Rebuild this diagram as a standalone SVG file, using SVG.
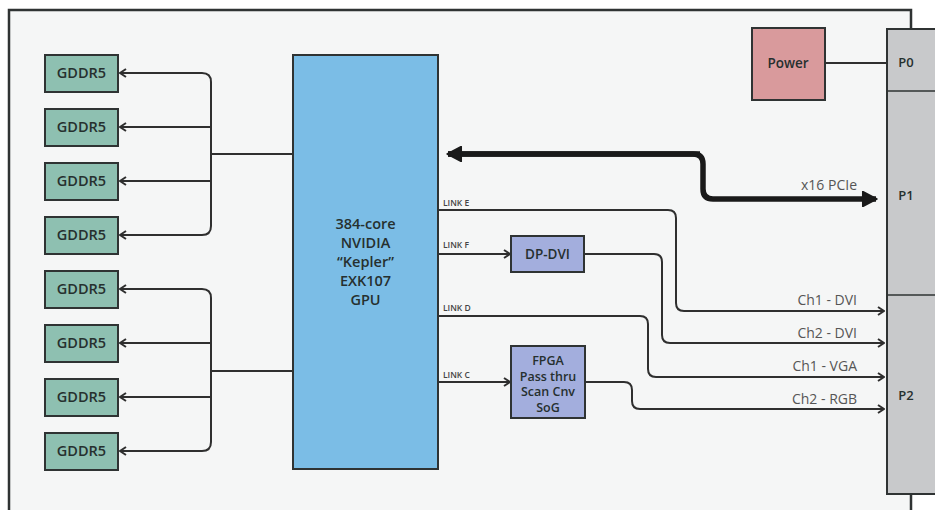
<svg xmlns="http://www.w3.org/2000/svg" width="935" height="510" viewBox="0 0 935 510">
<defs>
<style>
.box{stroke:#2f3333;stroke-width:2}
.mem{fill:#8ec0b1}
.t{font-family:"Open Sans","Liberation Sans",sans-serif;font-weight:600;fill:#26302f;text-anchor:middle}
.lnk{font-family:"Open Sans","Liberation Sans",sans-serif;font-weight:600;font-size:8.5px;fill:#444}
.lbl{font-family:"Open Sans","Liberation Sans",sans-serif;font-size:14px;fill:#555;text-anchor:end}
.w{fill:none;stroke:#2f2f2f;stroke-width:2}
.thick{fill:none;stroke:#1a1a1a;stroke-width:5.5}
</style>
<marker id="open" viewBox="0 0 10 10" refX="9" refY="5" markerWidth="10" markerHeight="10" markerUnits="userSpaceOnUse" orient="auto">
<path d="M3,1 L9,5 L3,9" fill="none" stroke="#2f2f2f" stroke-width="2"/>
</marker>
<marker id="fat" viewBox="0 0 10 10" refX="9" refY="5" markerWidth="3" markerHeight="3" orient="auto">
<path d="M1,0.5 L9.5,5 L1,9.5 Z" fill="#1a1a1a" stroke="#1a1a1a" stroke-width="1" stroke-linejoin="round"/>
</marker>
</defs>
<rect width="935" height="510" fill="#ffffff"/>
<g id="frame">
<rect x="9" y="10" width="902" height="510" fill="#f5f6f6"/>
<path d="M9,515 V10 H911 V29 M911,494 V515" fill="none" stroke="#2f3333" stroke-width="2.5"/>
</g>
<g id="connectors">
<path class="w" d="M211,154 V82 Q211,73 202,73 H120" marker-end="url(#open)"/>
<path class="w" d="M211,154 V226 Q211,235 202,235 H120" marker-end="url(#open)"/>
<path class="w" d="M211,127 H120" marker-end="url(#open)"/>
<path class="w" d="M211,181 H120" marker-end="url(#open)"/>
<path class="w" d="M211,154 H293"/>
<path class="w" d="M211,371 V298 Q211,289 202,289 H120" marker-end="url(#open)"/>
<path class="w" d="M211,371 V442 Q211,451 202,451 H120" marker-end="url(#open)"/>
<path class="w" d="M211,343 H120" marker-end="url(#open)"/>
<path class="w" d="M211,397 H120" marker-end="url(#open)"/>
<path class="w" d="M211,371 H293"/>
<path class="thick" d="M448,154 H693 Q703,154 703,164 V189 Q703,199 713,199 H876" marker-end="url(#fat)"/>
<path class="thick" d="M700,154 H448" marker-end="url(#fat)"/>
<path class="w" d="M438,210 H668 Q676,210 676,218 V303 Q676,311 684,311 H884" marker-end="url(#open)"/>
<path class="w" d="M438,254 H510" marker-end="url(#open)"/>
<path class="w" d="M584,254 H654 Q662,254 662,262 V335 Q662,343 670,343 H884" marker-end="url(#open)"/>
<path class="w" d="M438,316 H640 Q648,316 648,324 V369 Q648,377 656,377 H884" marker-end="url(#open)"/>
<path class="w" d="M438,382 H510" marker-end="url(#open)"/>
<path class="w" d="M585,382 H624 Q632,382 632,390 V401 Q632,409 640,409 H884" marker-end="url(#open)"/>
<path class="w" d="M825,63 H887"/>
</g>
<g id="connector-block">
<rect class="box" x="887" y="29" width="60" height="465" fill="#c8c9cb"/>
<line x1="887" y1="91" x2="935" y2="91" stroke="#2f3333" stroke-width="1.5"/>
<line x1="887" y1="295" x2="935" y2="295" stroke="#2f3333" stroke-width="1.5"/>
<text class="t" x="906" y="67" font-size="13">P0</text>
<text class="t" x="906" y="200" font-size="13">P1</text>
<text class="t" x="906" y="400" font-size="13">P2</text>
</g>
<g id="power">
<rect class="box" x="752" y="28" width="73" height="72" fill="#d99a9c"/>
<text class="t" x="788" y="68" font-size="13.5" fill="#3a2020">Power</text>
</g>
<g id="gpu">
<rect class="box" x="293" y="55" width="145" height="414" fill="#7bbde6"/>
<text class="t" font-size="14.5" x="365.5"><tspan x="365.5" y="229">384-core</tspan><tspan x="365.5" y="248">NVIDIA</tspan><tspan x="365.5" y="267">“Kepler”</tspan><tspan x="365.5" y="286">EXK107</tspan><tspan x="365.5" y="305">GPU</tspan></text>
</g>
<g id="gddr5-1"><rect class="box mem" x="45" y="55" width="73" height="37"/><text class="t" x="81.5" y="78" font-size="14.5">GDDR5</text></g>
<g id="gddr5-2"><rect class="box mem" x="45" y="109" width="73" height="37"/><text class="t" x="81.5" y="132" font-size="14.5">GDDR5</text></g>
<g id="gddr5-3"><rect class="box mem" x="45" y="163" width="73" height="37"/><text class="t" x="81.5" y="186" font-size="14.5">GDDR5</text></g>
<g id="gddr5-4"><rect class="box mem" x="45" y="217" width="73" height="37"/><text class="t" x="81.5" y="240" font-size="14.5">GDDR5</text></g>
<g id="gddr5-5"><rect class="box mem" x="45" y="271" width="73" height="37"/><text class="t" x="81.5" y="294" font-size="14.5">GDDR5</text></g>
<g id="gddr5-6"><rect class="box mem" x="45" y="325" width="73" height="37"/><text class="t" x="81.5" y="348" font-size="14.5">GDDR5</text></g>
<g id="gddr5-7"><rect class="box mem" x="45" y="379" width="73" height="37"/><text class="t" x="81.5" y="402" font-size="14.5">GDDR5</text></g>
<g id="gddr5-8"><rect class="box mem" x="45" y="433" width="73" height="37"/><text class="t" x="81.5" y="456" font-size="14.5">GDDR5</text></g>
<g id="dp-dvi"><rect class="box" x="511" y="236" width="73" height="36" fill="#a3aedd"/><text class="t" x="547.5" y="259" font-size="13.5">DP-DVI</text></g>
<g id="fpga"><rect class="box" x="511" y="346" width="74" height="72" fill="#a3aedd"/>
<text class="t" font-size="12.5" x="548"><tspan x="548" y="365">FPGA</tspan><tspan x="548" y="380.5">Pass thru</tspan><tspan x="548" y="396">Scan Cnv</tspan><tspan x="548" y="411.5">SoG</tspan></text></g>
<g id="labels">
<text class="lnk" x="443" y="206">LINK E</text>
<text class="lnk" x="443" y="248">LINK F</text>
<text class="lnk" x="443" y="311">LINK D</text>
<text class="lnk" x="443" y="378">LINK C</text>
<text class="lbl" x="857" y="190">x16 PCIe</text>
<text class="lbl" x="857" y="305">Ch1 - DVI</text>
<text class="lbl" x="857" y="338">Ch2 - DVI</text>
<text class="lbl" x="857" y="371">Ch1 - VGA</text>
<text class="lbl" x="857" y="404">Ch2 - RGB</text>
</g>
</svg>
